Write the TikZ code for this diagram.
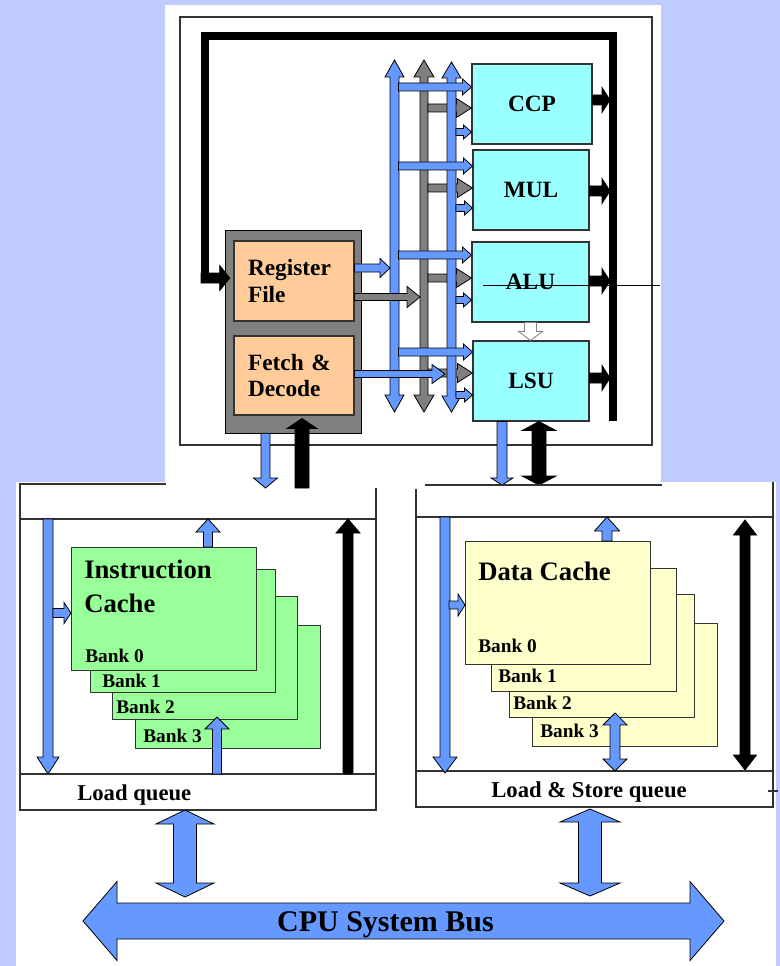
\documentclass[tikz,border=0pt]{standalone}
\usepackage{fontspec}
\setmainfont{Liberation Serif}
\usetikzlibrary{calc}

\definecolor{lavender}{RGB}{192,204,255}
\definecolor{busblue}{RGB}{102,153,255}
\definecolor{busgray}{RGB}{128,128,128}
\definecolor{unitcyan}{RGB}{153,255,255}
\definecolor{rforange}{RGB}{255,204,153}
\definecolor{icgreen}{RGB}{153,255,153}
\definecolor{dcyellow}{RGB}{255,255,204}
\definecolor{edge}{RGB}{51,51,51}

\tikzset{
  wpx/.style={minimum width=#1*0.75pt},
  hpx/.style={minimum height=#1*0.75pt},
  ashaft/.code={\pgfmathsetlengthmacro\ashaft{#1*0.375pt}},
  ahead/.code={\pgfmathsetlengthmacro\ahead{#1*0.375pt}},
  alen/.code={\pgfmathsetlengthmacro\alen{#1*0.75pt}},
  asz/.style n args={3}{ashaft=#1, ahead=#2, alen=#3},
  asz={8}{18}{10},
  % block arrow with one head
  onearrow/.style={to path={
    let \p1=($(\tikztotarget)!\alen!(\tikztostart)$) in
    ($(\tikztostart)!\ashaft!90:(\tikztotarget)$)
    -- ($(\p1)!\ashaft!90:(\tikztotarget)$)
    -- ($(\p1)!\ahead!90:(\tikztotarget)$)
    -- (\tikztotarget)
    -- ($(\p1)!\ahead!-90:(\tikztotarget)$)
    -- ($(\p1)!\ashaft!-90:(\tikztotarget)$)
    -- ($(\tikztostart)!\ashaft!-90:(\tikztotarget)$) -- cycle}},
  % block arrow with two heads
  twoarrow/.style={to path={
    let \p1=($(\tikztostart)!\alen!(\tikztotarget)$),
        \p2=($(\tikztotarget)!\alen!(\tikztostart)$) in
    (\tikztostart)
    -- ($(\p1)!\ahead!90:(\tikztotarget)$)
    -- ($(\p1)!\ashaft!90:(\tikztotarget)$)
    -- ($(\p2)!\ashaft!90:(\tikztotarget)$)
    -- ($(\p2)!\ahead!90:(\tikztotarget)$)
    -- (\tikztotarget)
    -- ($(\p2)!\ahead!-90:(\tikztotarget)$)
    -- ($(\p2)!\ashaft!-90:(\tikztotarget)$)
    -- ($(\p1)!\ashaft!-90:(\tikztotarget)$)
    -- ($(\p1)!\ahead!-90:(\tikztotarget)$) -- cycle}},
  blockarrow/.style={draw=black, line width=0.6pt, line join=miter},
  bluearrow/.style={blockarrow, fill=busblue},
  grayarrow/.style={blockarrow, fill=busgray},
  blackarrow/.style={blockarrow, fill=black},
  hollowarrow/.style={blockarrow, draw=busgray, fill=white},
  frame/.style={draw=edge, line width=0.8pt},
  wbus/.style={line width=6pt},
  unit/.style={draw=edge, line width=0.8pt, fill=unitcyan, hpx=80,
    font=\fontsize{17.5}{21}\selectfont\bfseries},
  stage/.style={draw=edge, line width=0.8pt, fill=rforange, wpx=120, hpx=80,
    align=left, text width=69pt, font=\fontsize{17.5}{20}\selectfont\bfseries},
  icard/.style={draw=edge, line width=0.7pt, fill=icgreen, wpx=185, hpx=123,
    anchor=north west},
  dcard/.style={icard, fill=dcyellow},
  banklabel/.style={anchor=base west, inner sep=0pt,
    font=\fontsize{14.5}{17}\selectfont\bfseries},
  cachetitle/.style={anchor=north west, inner sep=0pt, align=left,
    font=\fontsize{20}{25.5}\selectfont\bfseries},
  queuelabel/.style={anchor=base, inner sep=0pt,
    font=\fontsize{17}{20}\selectfont\bfseries},
}

\begin{document}
\begin{tikzpicture}[x=0.75pt, y=-0.75pt]
\useasboundingbox (0,0) rectangle (780,966);
\fill[lavender] (0,0) rectangle (780,966);
\fill[white] (165,5) rectangle (661,482);
\fill[white] (16,482) rectangle (776,966);

% processor core
\draw[frame] (180,17) rectangle (652,445);
\coordinate (wbbot) at (613,421);
\coordinate (wbtl) at (205,36);
\draw[wbus] (wbbot) |- (wbtl) -- (wbtl |- 0,283);

\node[draw=black, fill=busgray, wpx=136, hpx=203] (core) at (293,331.5) {};
\node[stage] (regfile) at (294,281) {Register\\File};
\node[stage, hpx=79] (fetch) at (294,375.5) {Fetch \&\\Decode};
\draw[blackarrow, asz={10}{25}{10}] ($(wbtl |- 0,278)+(-4,0)$) to[onearrow] ($(core.west |- 0,278)+(5,0)$);

\node[unit, wpx=120] (ccp) at (532,104) {CCP};
\node[unit, wpx=116] (mul) at (531,190) {MUL};
\node[unit, wpx=117] (alu) at (530.5,282) {ALU};
\node[unit, wpx=116] (lsu) at (531,381) {LSU};

% operand buses
\coordinate (busA) at (394.5,0);
\coordinate (busG) at (424,0);
\coordinate (busB) at (451.5,0);
\draw[bluearrow, asz={9}{19}{17}] (busA |- 0,412) to[twoarrow] (busA |- 0,60);
\draw[grayarrow, asz={8}{20}{17}] (busG |- 0,412) to[twoarrow] (busG |- 0,60);
\foreach \u/\yg in {ccp/108, mul/188, alu/278, lsu/373}
  \draw[grayarrow, asz={8}{19}{15}] ($(busG |- 0,\yg)+(4,0)$) to[onearrow] (\u.west |- 0,\yg);
\draw[grayarrow, asz={7}{21}{13}] (regfile.east |- 0,297) to[onearrow] ($(busG |- 0,297)+(-4,0)$);
\draw[bluearrow, asz={9}{19}{16}] (busB |- 0,412) to[twoarrow] (busB |- 0,62);
\foreach \u/\ya/\yc in {ccp/87/132, mul/166/208, alu/255/300, lsu/352/395} {
  \draw[bluearrow, asz={8}{16}{9}] ($(busA |- 0,\ya)+(4,0)$) to[onearrow] (\u.west |- 0,\ya);
  \draw[bluearrow, asz={7}{14}{8}] ($(busB |- 0,\yc)+(4.5,0)$) to[onearrow] (\u.west |- 0,\yc);
}
\draw[bluearrow, asz={8}{19}{10}] (regfile.east |- 0,268) to[onearrow] ($(busA |- 0,268)+(-4.5,0)$);
\draw[bluearrow, asz={7}{19}{13}] (fetch.east |- 0,374) to[onearrow] ($(busB |- 0,374)+(-6.5,0)$);

% results to write-back bus
\foreach \u/\yo in {ccp/100, mul/191, alu/281, lsu/378}
  \draw[blackarrow, asz={10}{25}{8}] (\u.east |- 0,\yo) to[onearrow] ($(wbbot |- 0,\yo)+(-3,0)$);
\draw[hollowarrow, asz={12}{24}{9}] (alu.south) to[onearrow] (alu.south |- lsu.north);
\draw[line width=0.6pt] (483,285) -- (660,285);

% links to the caches
\coordinate (ictop) at (0,488);
\coordinate (dctop) at (0,485);
\draw[bluearrow, asz={9}{24}{10}] (core.south -| 265.5,0) to[onearrow] (ictop -| 265.5,0);
\draw[blackarrow, asz={14}{30}{10}] (ictop -| 302,0) to[onearrow] ($(fetch.south -| 302,0)+(0,3)$);
\draw[bluearrow, asz={10}{22}{7}] (lsu.south -| 502,0) to[onearrow] (dctop -| 502,0);
\draw[blackarrow, asz={14}{34}{9}] (lsu.south -| 539,0) to[twoarrow] (dctop -| 539,0);

% instruction cache
\draw[frame] (166,484) -| (20,810) -| (376,488);
\coordinate (ldiv) at (20,519);
\coordinate (lque) at (20,774);
\coordinate (lbot) at (20,810);
\draw[frame] (ldiv) -- (ldiv -| 376,0);
\draw[frame] (lque) -- (lque -| 376,0);
\foreach \i/\x/\y in {3/135/625, 2/112/596, 1/90/569, 0/71/547}
  \node[icard] (ib\i) at (\x,\y) {};
\foreach \i/\dx/\dy in {0/14/-8, 1/12/-5, 2/4/-6, 3/8/-6}
  \node[banklabel] (ibl\i) at ($(ib\i.south west)+(\dx,\dy)$) {Bank \i};
\node[cachetitle] (ictitle) at ($(ib0.north west)+(13,13)$) {Instruction\\Cache};
\draw[bluearrow, asz={10}{22}{17}] (ldiv -| 48,0) to[onearrow] (lque -| 48,0);
\draw[bluearrow, asz={9}{21}{7}] ($(ib0.west |- 0,613)+(-18,0)$) to[onearrow] (ib0.west |- 0,613);
\draw[bluearrow, asz={9}{24}{13}] (ib0.north -| 208,0) to[onearrow] (ldiv -| 208,0);
\draw[bluearrow, asz={9}{24}{12}] (lque -| 217,0) to[onearrow] ($(ib2.south -| 217,0)+(0,-3)$);
\draw[blackarrow, asz={10}{24}{14}] (lque -| 348,0) to[onearrow] (ldiv -| 348,0);
\node[queuelabel, anchor=base west] (lqtext) at (77,800) {Load queue};

% data cache
\draw[frame] (662,485) -- (425,485);
\draw[frame] (416,489) |- (773,807) -- (773,482);
\coordinate (rdiv) at (416,517);
\coordinate (rque) at (416,771);
\coordinate (rbot) at (416,807);
\draw[frame] (rdiv) -- (rdiv -| 773,0);
\draw[frame] (rque) -- (rque -| 773,0);
\draw[frame] (768,791) -- (778,791);
\foreach \i/\x/\y in {3/532/623, 2/509/594, 1/491/568, 0/465/541}
  \node[dcard] (db\i) at (\x,\y) {};
\foreach \i/\dx/\dy in {0/13/-12, 1/7/-9, 2/4/-8, 3/8/-9}
  \node[banklabel] (dbl\i) at ($(db\i.south west)+(\dx,\dy)$) {Bank \i};
\node[cachetitle] (dctitle) at ($(db0.north west)+(13,21)$) {Data Cache};
\draw[bluearrow, asz={10}{24}{16}] (rdiv -| 445,0) to[onearrow] ($(rque -| 445,0)+(0,2)$);
\draw[bluearrow, asz={8}{22}{7}] ($(db0.west |- 0,605)+(-16,0)$) to[onearrow] (db0.west |- 0,605);
\draw[bluearrow, asz={10}{25}{14}] (db0.north -| 607,0) to[onearrow] (rdiv -| 607,0);
\draw[bluearrow, asz={10}{24}{12}] (rque -| 615,0) to[twoarrow] ($(db2.south -| 615,0)+(0,-5)$);
\draw[blackarrow, asz={10}{23}{15}] ($(rdiv -| 745,0)+(0,3)$) to[twoarrow] ($(rque -| 745,0)+(0,-1)$);
\node[queuelabel] (rqtext) at (589,797) {Load \& Store queue};

% system bus
\coordinate (busw) at (83,921);
\coordinate (buse) at (724,921);
\draw[bluearrow, asz={23}{58}{14}] (lbot -| 185,0) to[twoarrow] ($(busw -| 185,0)+(0,-24)$);
\draw[bluearrow, asz={23}{60}{13}] ($(rbot -| 590,0)+(0,2)$) to[twoarrow] ($(busw -| 590,0)+(0,-25)$);
\draw[bluearrow, asz={36}{79}{34}] (busw) to[twoarrow] (buse);
\node[anchor=base, inner sep=0pt, font=\fontsize{22.5}{26}\selectfont\bfseries] (bustext) at (385.5,931) {CPU System Bus};
\end{tikzpicture}
\end{document}
